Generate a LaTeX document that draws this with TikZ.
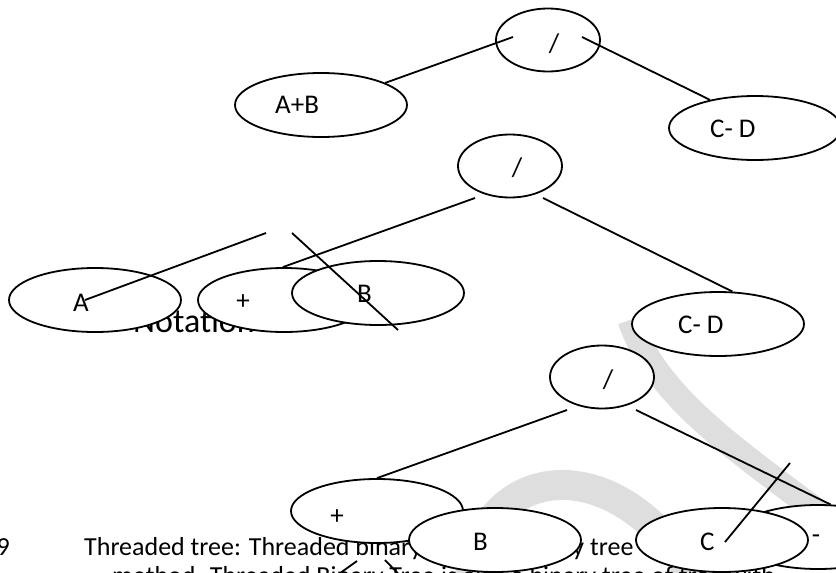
\documentclass[tikz,border=0pt]{standalone}
\usepackage{fontspec}
\setmainfont{Carlito}
\usetikzlibrary{shapes.geometric}
\definecolor{wmgray}{RGB}{222,222,222}
\begin{document}
\begin{tikzpicture}[x=1pt,y=-1pt,
  oval/.style={ellipse,draw,line width=1.8pt,fill=white,inner sep=0pt,minimum width=172pt,minimum height=64pt},
  slashoval/.style={oval,minimum width=104pt,minimum height=63pt},
  lbl/.style={inner sep=0pt,font=\fontsize{27}{32}\selectfont},
  bodytxt/.style={inner sep=0pt,font=\fontsize{26}{31}\selectfont},
  biglbl/.style={inner sep=0pt,font=\fontsize{34}{40}\selectfont},
  link/.style={line width=1.8pt},
  wm/.style={draw=wmgray,line width=#1},
  wm/.default=24pt]
\path[use as bounding box] (0,0) rectangle (836,573);
\clip (0,0) rectangle (836,573);

% watermark swooshes
\draw[wm=25pt] (630,320) .. controls (660,410) and (770,470) .. (860,545);
\draw[wm=30pt] (468,590) .. controls (478,455) and (625,445) .. (700,590);

% page text behind the shapes
\node[bodytxt,anchor=base east] (nine) at (10,555) {9};
\node[bodytxt,anchor=base west] (line1) at (84,555) {Threaded tree: Threaded binary tree is a binary tree variant in which};
\node[bodytxt,anchor=base west] (line2) at (112,584) {method. Threaded Binary Tree is also a binary tree of tree with};
\node[biglbl,anchor=base west] (notation) at (133,332) {Notation};

% tree 1
\node[slashoval] (r1) at (548,40) {};
\node[lbl] (r1t) at (554,44) {/};
\node[oval] (ab) at (321,105) {};
\node[lbl,anchor=base west] (abt) at (275,113) {A+B};
\node[oval] (cd1) at (755,128) {};
\node[lbl,anchor=base west] (cd1t) at (710,137) {C- D};

% tree 2
\node[slashoval] (r2) at (510,166) {};
\node[lbl] (r2t) at (517,168) {/};
\node[oval] (a) at (95,300) {};
\node[lbl,anchor=base west] (at) at (73,311) {A};
\node[oval] (p1) at (284,300) {};
\node[lbl] (p1t) at (243,302) {+};
\node[oval] (b1) at (378,293) {};
\node[lbl,anchor=base west] (b1t) at (357,302) {B};
\node[oval] (cd2) at (718,324) {};
\node[lbl,anchor=base west] (cd2t) at (678,333) {C- D};

% tree 3
\node[slashoval] (r3) at (602,377) {};
\node[lbl] (r3t) at (608,380) {/};
\node[oval] (p2) at (377,511) {};
\node[lbl] (p2t) at (337,517) {+};
\node[oval] (b2) at (495,540) {};
\node[lbl,anchor=base west] (b2t) at (473,550) {B};
\node[oval] (mi) at (818,537) {};
\node[lbl] (mit) at (816,539) {-};
\node[oval] (c) at (722,540) {};
\node[lbl,anchor=base west] (ct) at (700,550) {C};

% free ends of connectors
\coordinate (r1l) at (513,37);
\coordinate (r1r) at (582,37);
\coordinate (r2l) at (475,198);
\coordinate (r2r) at (543,198);
\coordinate (sa1) at (266,233);
\coordinate (sa2) at (85,300);
\coordinate (sb1) at (292,233);
\coordinate (sb2) at (398,330);
\coordinate (r3l) at (567,410);
\coordinate (r3r) at (636,410);
\coordinate (sc1) at (725,542);
\coordinate (sc2) at (790,463);
\coordinate (pa1) at (357,561);
\coordinate (pa2) at (322,586);
\coordinate (pb1) at (385,560);
\coordinate (pb2) at (410,586);

% connectors
\draw[link] (r1l) -- (ab.19);
\draw[link] (r1r) -- (cd1.148);
\draw[link] (r2l) -- (p1.92);
\draw[link] (r2r) -- (cd2.66);
\draw[link] (sa1) -- (sa2);
\draw[link] (sb1) -- (sb2);
\draw[link] (r3l) -- (p2.north);
\draw[link] (r3r) -- (mi.69);
\draw[link] (sc1) -- (sc2);
\draw[link] (pa1) -- (pa2);
\draw[link] (pb1) -- (pb2);
\end{tikzpicture}
\end{document}
